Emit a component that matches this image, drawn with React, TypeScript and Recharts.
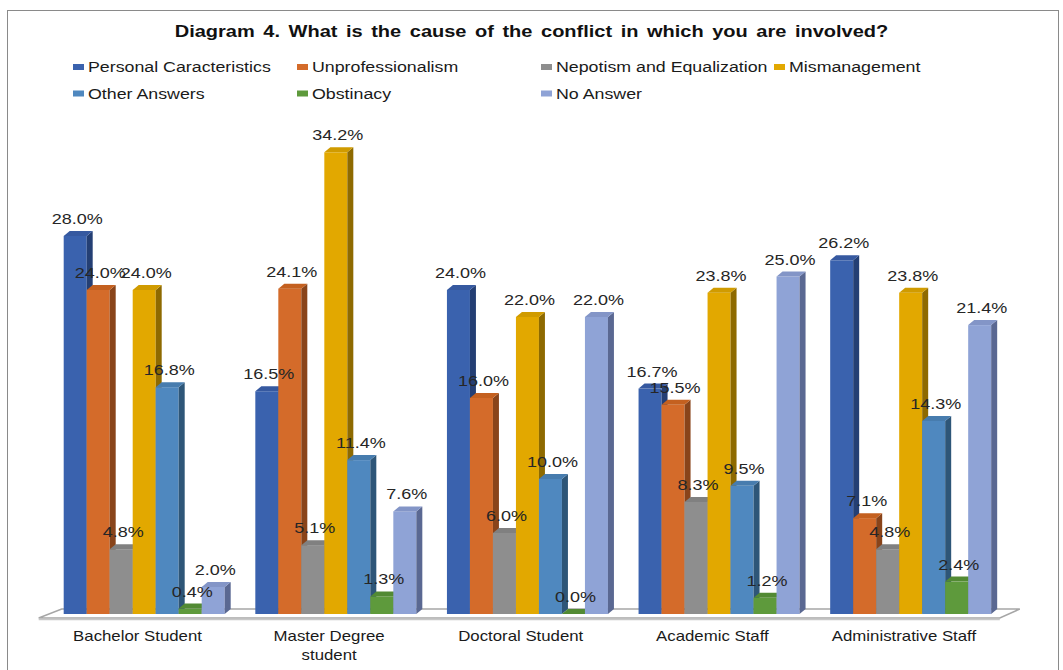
import React from 'react';
import { BarChart, Bar, XAxis, YAxis, LabelList } from 'recharts';

const categories = ['Bachelor Student', 'Master Degree\nstudent', 'Doctoral Student', 'Academic Staff', 'Administrative Staff'];

const personal = [28.0, 16.5, 24.0, 16.7, 26.2];
const unprofessional = [24.0, 24.1, 16.0, 15.5, 7.1];
const nepotism = [4.8, 5.1, 6.0, 8.3, 4.8];
const mismanagement = [24.0, 34.2, 22.0, 23.8, 23.8];
const otherAnswers = [16.8, 11.4, 10.0, 9.5, 14.3];
const obstinacy = [0.4, 1.3, 0.0, 1.2, 2.4];
const noAnswer = [2.0, 7.6, 22.0, 25.0, 21.4];

const seriesNames = [
  'Personal Caracteristics',
  'Unprofessionalism',
  'Nepotism and Equalization',
  'Mismanagement',
  'Other Answers',
  'Obstinacy',
  'No Answer',
];
const seriesValues = [personal, unprofessional, nepotism, mismanagement, otherAnswers, obstinacy, noAnswer];

const frontColors = ['#3A62AE', '#D46B2A', '#8E8E8E', '#E2A800', '#4F88BF', '#5E9A3C', '#8FA3D6'];
const sideColors = ['#243F74', '#89441A', '#5C5C5C', '#8E6A00', '#2E5678', '#3B6626', '#5A6892'];
const topColors = ['#3659A0', '#C4601F', '#808080', '#D09B00', '#477CAE', '#528A33', '#8395C7'];

const data = categories.map((c, i) => {
  const row: Record<string, any> = { category: c };
  seriesValues.forEach((vals, s) => {
    row['s' + s] = vals[i];
  });
  return row;
});

const W = 1063;
const H = 670;
const FONT = '"Liberation Sans", Arial, sans-serif';

// plot geometry
const PLOT_LEFT = 46.7;
const PLOT_RIGHT = 1004.8;
const BASE_Y = 614;
const Y_MAX = 35;
const PX_PER_UNIT = 13.5;
const PLOT_TOP = BASE_Y - Y_MAX * PX_PER_UNIT;
const DX = 6;
const DY = 5;

const make3D = (s: number) => (props: any) => {
  const { x, y, width, height } = props;
  if (x == null || y == null) return <g />;
  const h = Math.max(0, height || 0);
  const front = frontColors[s];
  return (
    <g>
      {h > 0 && <rect x={x} y={y} width={width} height={h} fill={front} />}
      <polygon
        points={`${x + width},${y} ${x + width + DX},${y - DY} ${x + width + DX},${y + h - DY} ${x + width},${y + h}`}
        fill={sideColors[s]}
      />
      <polygon
        points={`${x},${y} ${x + DX},${y - DY} ${x + width + DX},${y - DY} ${x + width},${y}`}
        fill={topColors[s]}
      />
    </g>
  );
};

const renderLabel = (props: any) => {
  const { x, y, width, value } = props;
  if (x == null || y == null) return null;
  const cx = x + width / 2 + 2;
  const by = y - 12;
  return (
    <text
      transform={`translate(${cx},${by}) scale(1.2,1)`}
      textAnchor="middle"
      fontSize={15}
      fill="#262626"
      fontFamily={FONT}
    >
      {Number(value).toFixed(1)}%
    </text>
  );
};

const CategoryTick = (props: any) => {
  const { x, y, payload } = props;
  const lines = String(payload.value).split('\n');
  return (
    <g transform={`translate(${x - 5},${y + 27})`}>
      {lines.map((line, i) => (
        <text
          key={i}
          transform={`translate(0,${i * 19}) scale(1.2,1)`}
          textAnchor="middle"
          fontSize={14}
          fill="#1a1a1a"
          fontFamily={FONT}
        >
          {line}
        </text>
      ))}
    </g>
  );
};

const legendCols = [73, 297, 541, 774];
const legendRows = [67, 93.5];
const legendSlots = [
  [0, 0], [1, 0], [2, 0], [3, 0],
  [0, 1], [1, 1], [2, 1],
];

export default function App() {
  const floorFront = BASE_Y + 4;
  const floorBack = BASE_Y - 5;
  return (
    <div style={{ position: 'absolute', left: 0, top: 0, width: W, height: H, background: '#fff', overflow: 'hidden' }}>
      <svg width={W} height={H} style={{ position: 'absolute', left: 0, top: 0 }}>
        <rect x={7.5} y={10.5} width={1051} height={680} fill="none" stroke="#8a8a8a" strokeWidth={1} />
        <text
          transform={`translate(531.5,37) scale(1.25,1)`}
          textAnchor="middle"
          fontSize={16}
          fontWeight="bold"
          fontFamily={FONT}
          wordSpacing={2.4}
          fill="#111"
        >
          Diagram 4. What is the cause of the conflict in which you are involved?
        </text>
        {seriesNames.map((name, s) => {
          const [c, r] = legendSlots[s];
          const lx = legendCols[c];
          const ly = legendRows[r];
          return (
            <g key={name}>
              <rect x={lx} y={ly - 3} width={11} height={6} fill={frontColors[s]} />
              <text
                transform={`translate(${lx + 15},${ly + 5}) scale(1.27,1)`}
                fontSize={14}
                fontFamily={FONT}
                fill="#1a1a1a"
              >
                {name}
              </text>
            </g>
          );
        })}
        {/* floor */}
        <polygon
          points={`${PLOT_LEFT - 8},${floorFront} ${PLOT_RIGHT - 5},${floorFront} ${PLOT_RIGHT + 15},${floorBack} ${PLOT_LEFT + 15},${floorBack}`}
          fill="#fff"
          stroke="#a6a6a6"
          strokeWidth={1.5}
        />
        <line x1={PLOT_LEFT - 8} x2={PLOT_RIGHT - 5} y1={floorFront + 1.5} y2={floorFront + 1.5} stroke="#c8c8c8" strokeWidth={1.5} />
      </svg>
      <div style={{ position: 'absolute', left: 0, top: 0 }}>
        <BarChart
          width={W}
          height={H}
          data={data}
          margin={{ top: PLOT_TOP, right: W - PLOT_RIGHT, bottom: 0, left: PLOT_LEFT }}
          barCategoryGap={17}
          barGap={0}
        >
          <XAxis
            dataKey="category"
            height={H - BASE_Y}
            axisLine={false}
            tickLine={false}
            tickSize={0}
            tickMargin={0}
            interval={0}
            tick={<CategoryTick />}
          />
          <YAxis hide domain={[0, Y_MAX]} />
          {seriesNames.map((name, s) => (
            <Bar
              key={name}
              dataKey={'s' + s}
              name={name}
              fill={frontColors[s]}
              shape={make3D(s)}
              isAnimationActive={false}
            >
              <LabelList dataKey={'s' + s} content={renderLabel} />
            </Bar>
          ))}
        </BarChart>
      </div>
    </div>
  );
}
